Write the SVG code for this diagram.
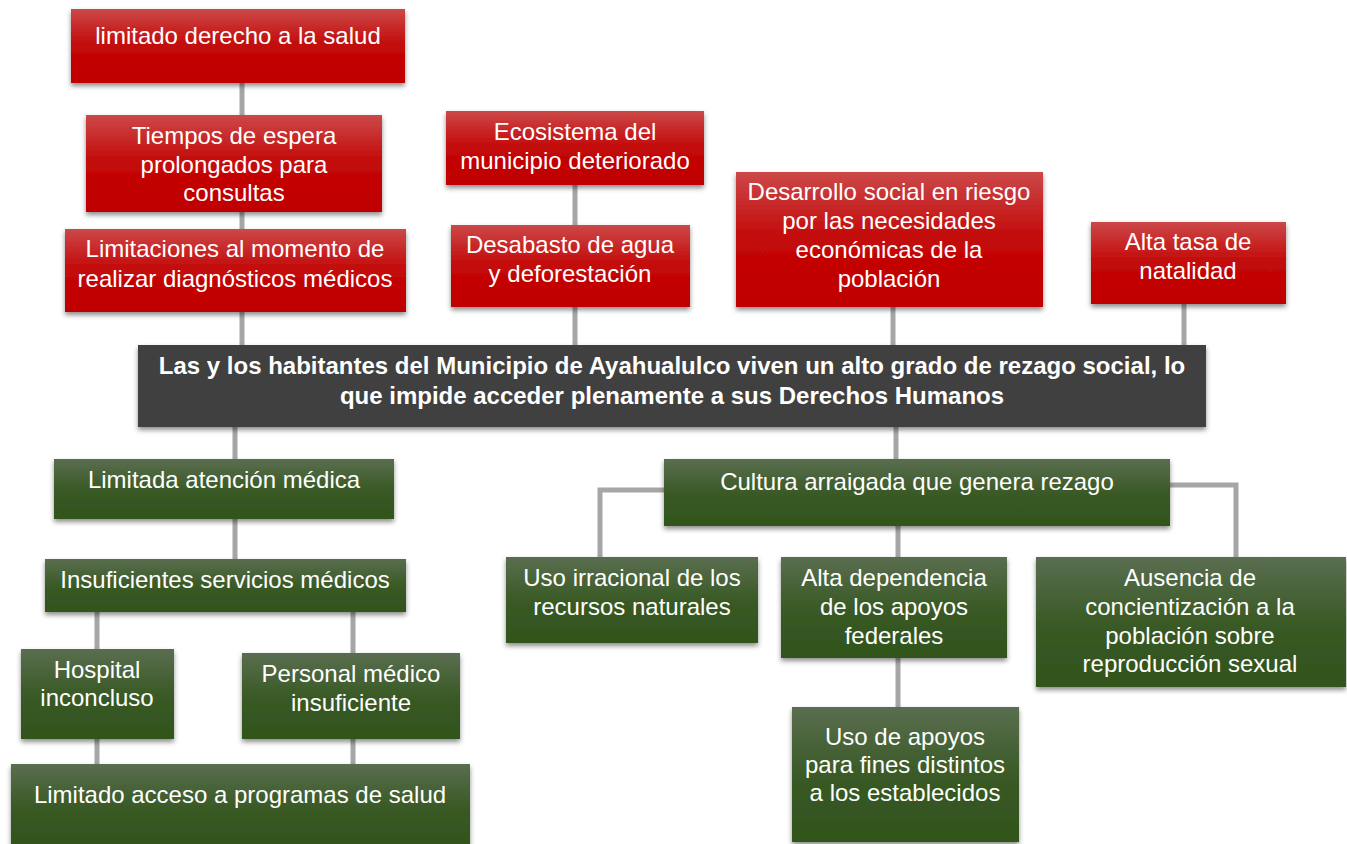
<svg xmlns="http://www.w3.org/2000/svg" width="1347" height="844" viewBox="0 0 1347 844">
<defs>
<linearGradient id="gr" x1="0" y1="0" x2="0" y2="1">
<stop offset="0" stop-color="#cc4848"/><stop offset="0.5" stop-color="#c30808"/><stop offset="1" stop-color="#c00000"/>
</linearGradient>
<linearGradient id="gg" x1="0" y1="0" x2="0" y2="1">
<stop offset="0" stop-color="#5a6e50"/><stop offset="0.5" stop-color="#3a5a26"/><stop offset="1" stop-color="#30541c"/>
</linearGradient>
<filter id="sh" x="-10%" y="-10%" width="120%" height="130%">
<feDropShadow dx="0" dy="3" stdDeviation="2.5" flood-color="#000" flood-opacity="0.45"/>
</filter>
</defs>
<style>
.r{fill:url(#gr);filter:url(#sh)}
.g{fill:url(#gg);filter:url(#sh)}
.d{fill:#404040;filter:url(#sh)}
text{font-family:"Liberation Sans",Arial,sans-serif;font-size:24px;fill:#fff;text-anchor:middle}
.b{font-weight:bold;font-size:24px}
.c line,.c path{stroke:#a6a6a6;stroke-width:5;fill:none}
</style>
<g class="c" id="connectors">
<line x1="242" y1="83" x2="242" y2="345"/>
<line x1="575" y1="185" x2="575" y2="345"/>
<line x1="893" y1="307" x2="893" y2="345"/>
<line x1="1184" y1="304" x2="1184" y2="345"/>
<line x1="235" y1="427" x2="235" y2="559"/>
<line x1="97" y1="612" x2="97" y2="764"/>
<line x1="353" y1="612" x2="353" y2="764"/>
<line x1="896" y1="427" x2="896" y2="459"/>
<path d="M664 490 H600 V557"/>
<path d="M1170 485 H1236 V557"/>
<line x1="898" y1="526" x2="898" y2="707"/>
</g>
<g id="n1"><rect class="r" x="71" y="9" width="334" height="74"/><text x="238" y="44">limitado derecho a la salud</text></g>
<g id="n2"><rect class="r" x="86" y="115" width="296" height="97"/><text x="234" y="144">Tiempos de espera</text><text x="234" y="173">prolongados para</text><text x="234" y="201">consultas</text></g>
<g id="n3"><rect class="r" x="65" y="229" width="341" height="83"/><text x="235" y="257">Limitaciones al momento de</text><text x="235" y="287">realizar diagnósticos médicos</text></g>
<g id="n4"><rect class="r" x="446" y="111" width="258" height="74"/><text x="575" y="140">Ecosistema del</text><text x="575" y="169">municipio deteriorado</text></g>
<g id="n5"><rect class="r" x="451" y="225" width="239" height="82"/><text x="570" y="253">Desabasto de agua</text><text x="570" y="282">y deforestación</text></g>
<g id="n6"><rect class="r" x="736" y="172" width="307" height="135"/><text x="889" y="200">Desarrollo social en riesgo</text><text x="889" y="229">por las necesidades</text><text x="889" y="258">económicas de la</text><text x="889" y="287">población</text></g>
<g id="n7"><rect class="r" x="1091" y="222" width="195" height="82"/><text x="1188" y="250">Alta tasa de</text><text x="1188" y="279">natalidad</text></g>
<g id="main"><rect class="d" x="138" y="345" width="1068" height="82"/><text class="b" x="672" y="374">Las y los habitantes del Municipio de Ayahualulco viven un alto grado de rezago social, lo</text><text class="b" x="672" y="404">que impide acceder plenamente a sus Derechos Humanos</text></g>
<g id="e1"><rect class="g" x="54" y="459" width="340" height="60"/><text x="224" y="488">Limitada atención médica</text></g>
<g id="e2"><rect class="g" x="45" y="559" width="361" height="53"/><text x="225" y="588">Insuficientes servicios médicos</text></g>
<g id="e3"><rect class="g" x="21" y="649" width="153" height="90"/><text x="97" y="678">Hospital</text><text x="97" y="706">inconcluso</text></g>
<g id="e4"><rect class="g" x="242" y="653" width="218" height="86"/><text x="351" y="682">Personal médico</text><text x="351" y="711">insuficiente</text></g>
<g id="e5"><rect class="g" x="11" y="764" width="459" height="84"/><text x="240" y="803">Limitado acceso a programas de salud</text></g>
<g id="e6"><rect class="g" x="664" y="459" width="506" height="67"/><text x="917" y="490">Cultura arraigada que genera rezago</text></g>
<g id="e7"><rect class="g" x="506" y="557" width="252" height="86"/><text x="632" y="586">Uso irracional de los</text><text x="632" y="615">recursos naturales</text></g>
<g id="e8"><rect class="g" x="781" y="557" width="226" height="101"/><text x="894" y="586">Alta dependencia</text><text x="894" y="615">de los apoyos</text><text x="894" y="644">federales</text></g>
<g id="e9"><rect class="g" x="1036" y="557" width="310" height="130"/><text x="1190" y="586">Ausencia de</text><text x="1190" y="615">concientización a la</text><text x="1190" y="644">población sobre</text><text x="1190" y="672">reproducción sexual</text></g>
<g id="e10"><rect class="g" x="792" y="707" width="227" height="135"/><text x="905" y="745">Uso de apoyos</text><text x="905" y="773">para fines distintos</text><text x="905" y="801">a los establecidos</text></g>
</svg>
